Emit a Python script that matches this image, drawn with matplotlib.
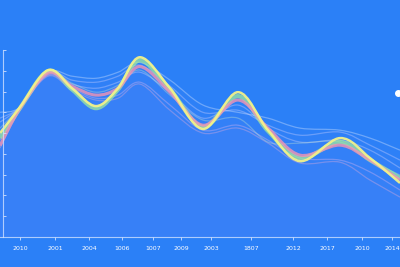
import numpy as np
import matplotlib
matplotlib.use('Agg')
import matplotlib.pyplot as plt
from matplotlib.path import Path
from matplotlib.patches import PathPatch

# x knots shared by every series
x = [0, 20, 48, 72, 96, 118, 140, 170, 203, 238, 268, 300, 340, 370, 400]

# bright series
yellow = [50, 62.5, 80.3, 71.6, 63, 71.6, 86.5, 71.6, 52, 69.7, 51.4, 36.5, 47.6, 38, 26]
green = [47.6, 62, 79.8, 71, 62, 71, 85, 71, 53, 67.8, 51, 38, 45.7, 37, 28.4]
pink = [44, 62, 78.8, 72.6, 68.3, 71.6, 82, 69.7, 53.8, 65.9, 52.4, 39.4, 44.2, 37, 27.4]

# faint series
faint1 = [60, 62.5, 79.3, 77.4, 76.4, 79.3, 84, 75.5, 63.5, 60, 57.2, 52.4, 51.4, 47.6, 41.8]
faint2 = [57.2, 62.5, 79.3, 75.5, 74.5, 77.4, 82.7, 72.6, 60, 61, 53.8, 49, 50.5, 44.2, 37]
faint3 = [55.3, 62.5, 79, 73.6, 71.6, 74.5, 79.3, 69.7, 57.2, 63.5, 52.4, 45.7, 46.6, 41.8, 33.2]
faint4 = [46.6, 62, 77.9, 71.6, 66.8, 68.3, 74.5, 63.5, 51.4, 53.8, 46.6, 38, 37, 31.3, 22.6]
faint5 = [42.8, 61, 77.4, 70.7, 65.9, 66.8, 73.6, 61, 50, 52.4, 45.2, 35.6, 36, 27.4, 19.2]
faint6 = [52.4, 62.5, 79.3, 74, 69.7, 73, 80.3, 68.3, 56.3, 57.2, 45.7, 45.2, 45.7, 37, 29.8]

tick_pos = [20, 55, 89, 122, 153, 181, 211, 251, 293, 327, 362, 392]
tick_labels = ['2010', '2001', '2004', '1006', '1007', '2009', '2003', '1807',
               '2012', '2017', '2010', '2014']
dot_x, dot_y = 398, 69.2

bg = '#2b80f7'


def smooth_path(xs, ys, close_to=None):
    p = np.column_stack([xs, ys]).astype(float)
    n = len(p)
    verts = [p[0]]
    codes = [Path.MOVETO]
    for i in range(n - 1):
        p0 = p[max(i - 1, 0)]
        p1, p2 = p[i], p[i + 1]
        p3 = p[min(i + 2, n - 1)]
        c1 = p1 + (p2 - p0) / 6
        c2 = p2 - (p3 - p1) / 6
        verts += [c1, c2, p2]
        codes += [Path.CURVE4] * 3
    if close_to is not None:
        verts += [(p[-1][0], close_to), (p[0][0], close_to), p[0]]
        codes += [Path.LINETO, Path.LINETO, Path.CLOSEPOLY]
    return Path(verts, codes)


fig = plt.figure(figsize=(4, 2.67), dpi=100)
fig.patch.set_facecolor(bg)
ax = fig.add_axes([0, 30 / 267, 1, 187 / 267])
ax.set_facecolor(bg)
ax.set_xlim(0, 400)
ax.set_ylim(0, 90)

faint = [(faint1, '#e8f0ff', 0.35), (faint2, '#dcd8ff', 0.35), (faint3, '#f4e6ff', 0.3),
         (faint4, '#e6b8f0', 0.35), (faint5, '#f0b0d8', 0.35), (faint6, '#c8e8d0', 0.35)]

# soft fill under the bundle
for ys, c, a in faint:
    ax.add_patch(PathPatch(smooth_path(x, ys, close_to=0), facecolor='#b8a8ff',
                           edgecolor='none', alpha=0.018, clip_on=False))

for ys, c, a in faint:
    ax.add_patch(PathPatch(smooth_path(x, ys), facecolor='none', edgecolor=c,
                           lw=0.9, alpha=a, clip_on=False))

ax.add_patch(PathPatch(smooth_path(x, green), facecolor='none', edgecolor='#9ee8a0',
                       lw=3, alpha=0.75, clip_on=False))
ax.add_patch(PathPatch(smooth_path(x, pink), facecolor='none', edgecolor='#f294b4',
                       lw=2.2, alpha=0.8, clip_on=False))
ax.add_patch(PathPatch(smooth_path(x, yellow), facecolor='none', edgecolor='#f2f28a',
                       lw=1.8, alpha=0.95, clip_on=False))

ax.plot([dot_x], [dot_y], 'o', color='white', ms=4, clip_on=False)

for s in ['top', 'right']:
    ax.spines[s].set_visible(False)
ax.spines['left'].set_position(('data', 3))
for s in ['left', 'bottom']:
    ax.spines[s].set_color('#cfe0ff')
    ax.spines[s].set_linewidth(0.8)
    ax.spines[s].set_alpha(0.8)

ax.set_xticks(tick_pos)
ax.set_xticklabels(tick_labels, fontsize=4.5, color='white')
ax.tick_params(axis='x', length=2.5, width=0.6, color='#cfe0ff', pad=4)
ax.set_yticks(range(10, 91, 10))
ax.set_yticklabels([])
ax.tick_params(axis='y', direction='in', length=2, width=0.6, color='#cfe0ff')

fig.savefig('out.png', dpi=100, facecolor=bg)
